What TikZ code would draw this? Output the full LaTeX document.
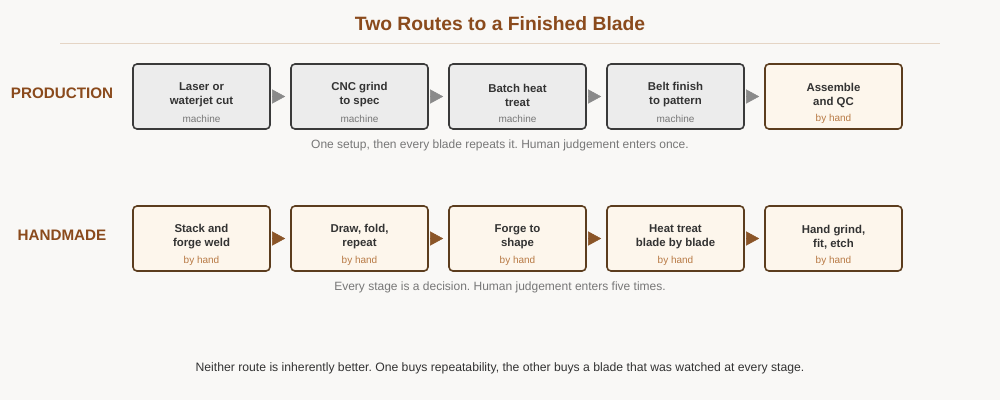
\documentclass[tikz,border=0pt]{standalone}
\usepackage{fontspec}
\setmainfont{Liberation Sans}
\usetikzlibrary{arrows.meta}
\definecolor{bg}{HTML}{F9F8F6}
\definecolor{ttl}{HTML}{8A4A1C}
\definecolor{rule}{HTML}{E5D5C5}
\definecolor{mfill}{HTML}{ECECEC}
\definecolor{mdraw}{HTML}{3A3A3A}
\definecolor{hfill}{HTML}{FDF6EC}
\definecolor{hdraw}{HTML}{5C3D1E}
\definecolor{hsub}{HTML}{B87A45}
\definecolor{msub}{HTML}{777777}
\definecolor{marr}{HTML}{8A8A8A}
\definecolor{harr}{HTML}{8A5528}
\definecolor{txt}{HTML}{333333}
\definecolor{cap}{HTML}{777777}
\frenchspacing
\begin{document}
\begin{tikzpicture}[x=1pt,y=-1pt,
  box/.style={rectangle,rounded corners=4pt,line width=1.6pt,minimum width=137pt,minimum height=65pt,inner sep=0pt},
  mbox/.style={box,fill=mfill,draw=mdraw},
  hbox/.style={box,fill=hfill,draw=hdraw},
  main/.style={font=\fontsize{11.4}{14}\selectfont\bfseries,text=txt,align=center},
  sub/.style={font=\fontsize{10}{12}\selectfont},
  arr/.style={-{Triangle[length=13pt,width=14pt]},shorten <=2pt,shorten >=5pt,line width=0.5pt},
  rowlab/.style={font=\fontsize{15.2}{18}\selectfont\bfseries,text=ttl},
  capt/.style={font=\fontsize{12}{14}\selectfont,text=cap}]
\fill[bg] (0,0) rectangle (1000,400);
\useasboundingbox (0,0) rectangle (1000,400);
\node[font=\fontsize{19.3}{22}\selectfont\bfseries,text=ttl] (title) at (500,24) {Two Routes to a Finished Blade};
\coordinate (r1) at (60,43); \coordinate (r2) at (940,43);
\draw[rule,line width=1pt] (r1) -- (r2);
\node[rowlab] (lp) at (62,93) {PRODUCTION};
\node[rowlab] (lh) at (62,235) {HANDMADE};
\foreach \i/\t/\s/\k in {1/{Laser or\\waterjet cut}/machine/m,2/{CNC grind\\to spec}/machine/m,3/{Batch heat\\treat}/machine/m,4/{Belt finish\\to pattern}/machine/m,5/{Assemble\\and QC}/{by hand}/h}{
  \node[\k box] (p\i) at ({201.5+158*(\i-1)},96.5) {};
  \node[main] (pt\i) at ({201.5+158*(\i-1)},95) {\t};
  \node[sub,text=\k sub] (ps\i) at ({201.5+158*(\i-1)},119) {\s};
}
\foreach \i/\t in {1/{Stack and\\forge weld},2/{Draw, fold,\\repeat},3/{Forge to\\shape},4/{Heat treat\\blade by blade},5/{Hand grind,\\fit, etch}}{
  \node[hbox] (h\i) at ({201.5+158*(\i-1)},238.5) {};
  \node[main] (ht\i) at ({201.5+158*(\i-1)},237) {\t};
  \node[sub,text=hsub] (hs\i) at ({201.5+158*(\i-1)},261) {by hand};
}
\foreach \a/\b in {1/2,2/3,3/4,4/5}{
  \draw[arr,marr,fill=marr] (p\a.east) -- (p\b.west);
  \draw[arr,harr,fill=harr] (h\a.east) -- (h\b.west);
}
\node[capt] (c1) at (500,145) {One setup, then every blade repeats it. Human judgement enters once.};
\node[capt] (c2) at (500,287) {Every stage is a decision. Human judgement enters five times.};
\node[font=\fontsize{12.2}{14}\selectfont,text=txt] (foot) at (500,368) {Neither route is inherently better. One buys repeatability, the other buys a blade that was watched at every stage.};
\end{tikzpicture}
\end{document}
